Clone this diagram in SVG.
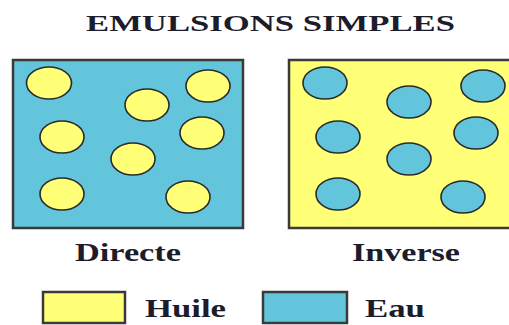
<svg xmlns="http://www.w3.org/2000/svg" width="509" height="325" viewBox="0 0 509 325">
<style>
.t{font-family:"Liberation Serif","Times New Roman",serif;font-weight:bold;fill:#1c1c2a}
.box{stroke:#3a3a3a;stroke-width:2.5}
.oil{fill:#FFFF78}
.water{fill:#62C5DB}
.drop{stroke:#2a2a2a;stroke-width:1.6}
</style>
<rect width="509" height="325" fill="#ffffff"/>
<text class="t" x="86" y="31" font-size="23" textLength="369" lengthAdjust="spacingAndGlyphs">EMULSIONS SIMPLES</text>
<g id="directe">
<rect class="box water" x="13" y="60" width="230" height="168"/>
<g class="drop oil">
<ellipse cx="49" cy="83" rx="22.5" ry="16"/>
<ellipse cx="208" cy="86" rx="22" ry="16"/>
<ellipse cx="147" cy="105" rx="22" ry="16"/>
<ellipse cx="62" cy="137" rx="22" ry="16"/>
<ellipse cx="202" cy="133" rx="22" ry="16"/>
<ellipse cx="133" cy="159" rx="22" ry="16"/>
<ellipse cx="62" cy="194" rx="22" ry="16"/>
<ellipse cx="188" cy="197" rx="22" ry="16"/>
</g>
<text class="t" x="75" y="261" font-size="25" textLength="106" lengthAdjust="spacingAndGlyphs">Directe</text>
</g>
<g id="inverse">
<rect class="box oil" x="289" y="60" width="224" height="168"/>
<g class="drop water">
<ellipse cx="325" cy="83" rx="22" ry="16"/>
<ellipse cx="409" cy="102" rx="22" ry="16"/>
<ellipse cx="483" cy="86" rx="22" ry="16"/>
<ellipse cx="338" cy="137" rx="22" ry="16"/>
<ellipse cx="476" cy="133" rx="22" ry="16"/>
<ellipse cx="409" cy="159" rx="22" ry="16"/>
<ellipse cx="338" cy="194" rx="22" ry="16"/>
<ellipse cx="463" cy="197" rx="22" ry="16"/>
</g>
<text class="t" x="352" y="261" font-size="25" textLength="108" lengthAdjust="spacingAndGlyphs">Inverse</text>
</g>
<g id="legend-huile">
<rect class="box oil" x="43" y="292" width="82" height="31"/>
<text class="t" x="145" y="317" font-size="25" textLength="81" lengthAdjust="spacingAndGlyphs">Huile</text>
</g>
<g id="legend-eau">
<rect class="box water" x="263" y="292" width="84" height="31"/>
<text class="t" x="365" y="317" font-size="25" textLength="60" lengthAdjust="spacingAndGlyphs">Eau</text>
</g>
<g id="connectors"/>
</svg>
